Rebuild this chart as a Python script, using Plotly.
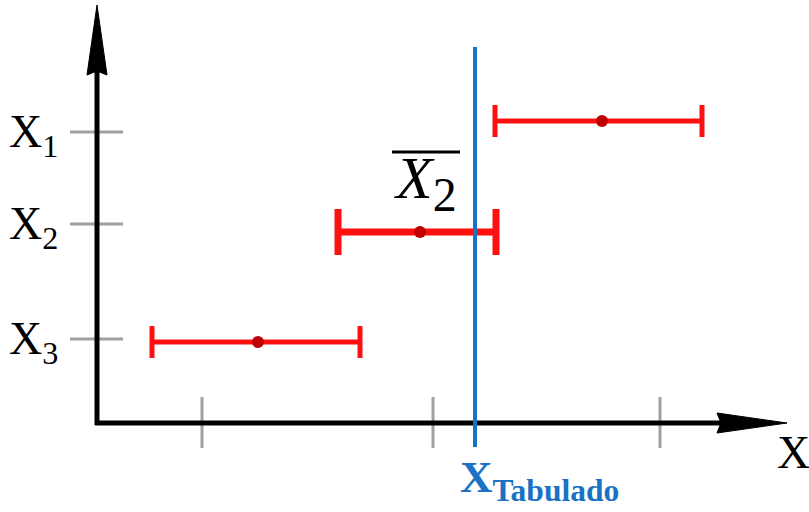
import plotly.graph_objects as go

# Diagram coordinates (1 unit ~ 100 px), origin at the axes corner
row_labels = ["X<sub>1</sub>", "X<sub>2</sub>", "X<sub>3</sub>"]
row_tick_y = [2.91, 1.99, 0.84]
interval_y = [3.02, 1.91, 0.81]
interval_low = [3.98, 2.41, 0.55]
interval_high = [6.05, 3.99, 2.63]
interval_mean = [5.05, 3.23, 1.61]
x_ticks = [1.05, 3.36, 5.63]
x_tabulado = 3.78
xbar_label = "<i>X</i><sub><span style='font-size:48px'>2</span></sub>"
tab_label = "<b>X<sub>Tabulado</sub></b>"

# styles
RED = "#ff1010"
DOT = "#c00000"
BLUE = "#1a72c4"
GRAY = "#a0a0a0"
bar_thick = [5, 7, 5]
cap_half = [16, 23, 16]
y_top, x_right = 4.18, 6.90
arrow_len, arrow_half = 0.70, 0.10
tick_half = 0.26

fig = go.Figure()

# intervals
for i in range(len(interval_y)):
    fig.add_trace(go.Scatter(
        x=[interval_mean[i]], y=[interval_y[i]], mode="markers",
        marker=dict(size=12, color=DOT),
        error_x=dict(type="data", symmetric=False,
                     array=[interval_high[i] - interval_mean[i]],
                     arrayminus=[interval_mean[i] - interval_low[i]],
                     color=RED, thickness=bar_thick[i], width=cap_half[i]),
        showlegend=False, hoverinfo="skip"))

shapes = []
# gray ticks on y axis
for ty in row_tick_y:
    shapes.append(dict(type="line", x0=-tick_half - 0.01, x1=tick_half, y0=ty, y1=ty,
                       line=dict(color=GRAY, width=3), layer="below"))
# gray ticks on x axis
for tx in x_ticks:
    shapes.append(dict(type="line", x0=tx, x1=tx, y0=-tick_half + 0.01, y1=tick_half,
                       line=dict(color=GRAY, width=3), layer="below"))
# axes lines
shapes.append(dict(type="line", x0=0, x1=0, y0=-0.02, y1=y_top - arrow_len + 0.05,
                   line=dict(color="black", width=5)))
shapes.append(dict(type="line", x0=-0.02, x1=x_right - arrow_len + 0.05, y0=0, y1=0,
                   line=dict(color="black", width=5)))
# arrowheads
shapes.append(dict(type="path",
                   path=f"M {-arrow_half} {y_top - arrow_len} L 0 {y_top} L {arrow_half} {y_top - arrow_len} L 0 {y_top - arrow_len + 0.04} Z",
                   fillcolor="black", line=dict(color="black", width=1)))
shapes.append(dict(type="path",
                   path=f"M {x_right - arrow_len} {arrow_half} L {x_right} 0 L {x_right - arrow_len} {-arrow_half} L {x_right - arrow_len + 0.04} 0 Z",
                   fillcolor="black", line=dict(color="black", width=1)))
# tabulated value line
shapes.append(dict(type="line", x0=x_tabulado, x1=x_tabulado, y0=-0.24, y1=3.76,
                   line=dict(color=BLUE, width=4)))
# overline for mean label
shapes.append(dict(type="line", x0=2.95, x1=3.63, y0=2.71, y1=2.71,
                   line=dict(color="black", width=3)))

annotations = []
for lab, ty in zip(row_labels, row_tick_y):
    annotations.append(dict(x=-0.37, y=ty - 0.03, text=lab, showarrow=False,
                            xanchor="right", yanchor="middle",
                            font=dict(size=46, color="black")))
annotations.append(dict(x=2.95, y=2.40, text=xbar_label, showarrow=False,
                        xanchor="left", yanchor="middle",
                        font=dict(size=60, color="black")))
annotations.append(dict(x=6.78, y=-0.29, text="X", showarrow=False,
                        xanchor="left", yanchor="middle",
                        font=dict(size=46, color="black")))
annotations.append(dict(x=3.61, y=-0.57, text=tab_label, showarrow=False,
                        xanchor="left", yanchor="middle",
                        font=dict(size=45, color=BLUE)))

fig.update_layout(
    width=809, height=512,
    margin=dict(l=0, r=0, t=0, b=0),
    paper_bgcolor="white", plot_bgcolor="white",
    font=dict(family="Liberation Serif"),
    xaxis=dict(range=[-0.97, 7.12], visible=False, fixedrange=True),
    yaxis=dict(range=[-0.89, 4.23], visible=False, fixedrange=True),
    shapes=shapes, annotations=annotations,
)

fig.write_html("out.html", config={"displayModeBar": False},
               post_script="document.body.style.margin='0';")
